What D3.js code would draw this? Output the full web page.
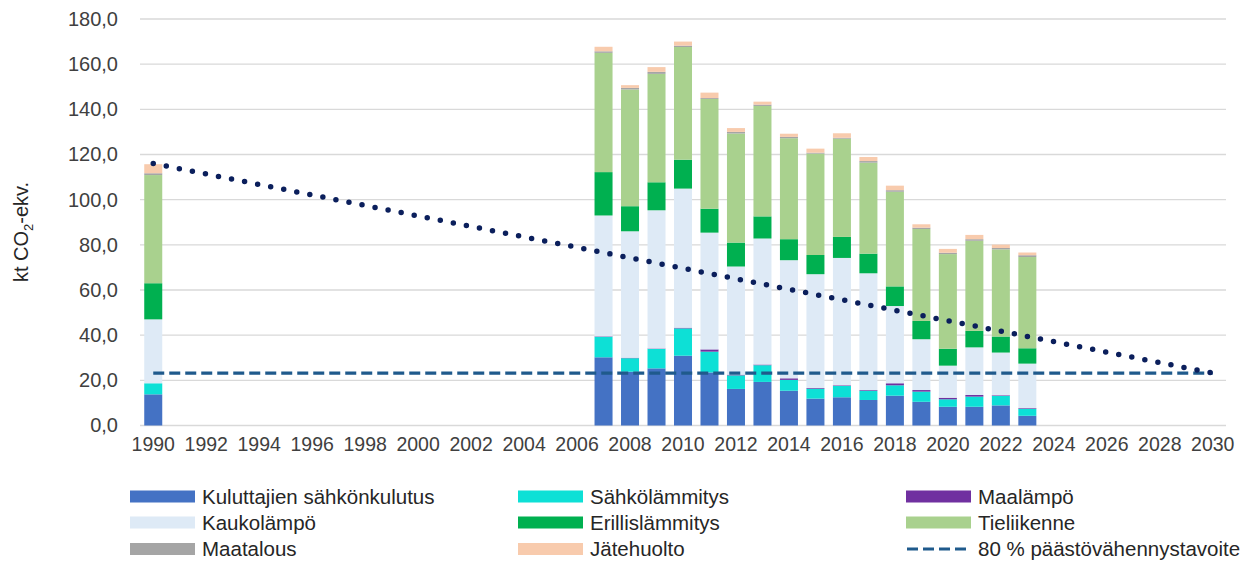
<!DOCTYPE html>
<html>
<head>
<meta charset="utf-8">
<script src="https://cdn.jsdelivr.net/npm/d3@7"></script>
<style>
  body { margin: 0; background: #fff; }
  svg { font-family: "Liberation Sans", Arial, sans-serif; }
  .tick text { fill: #404040; }
</style>
</head>
<body>
<div class="graph_container"></div>
<script>
// categories on the x axis (every year 1990..2030, labels every 2nd)
const allYears = d3.range(1990, 2031);
const dataYears = [1990, 2007, 2008, 2009, 2010, 2011, 2012, 2013, 2014, 2015, 2016, 2017, 2018, 2019, 2020, 2021, 2022, 2023];

// stacked series, kt CO2-ekv.
const kuluttajien = [13.8, 30.2, 23.8, 25.3, 30.9, 23.5, 16.2, 19.3, 15.4, 11.9, 12.5, 11.3, 13.2, 10.5, 8.3, 8.3, 8.9, 4.3];
const sahkolammitys = [4.9, 9.1, 6.0, 8.6, 12.1, 9.2, 6.0, 7.4, 4.8, 4.4, 5.0, 4.1, 4.6, 4.5, 3.3, 4.5, 4.2, 3.1];
const maalampo = [0.0, 0.2, 0.2, 0.2, 0.3, 1.0, 0.3, 0.3, 0.7, 0.3, 0.3, 0.3, 0.9, 0.7, 0.7, 0.7, 0.3, 0.3];
const kaukolampo = [28.3, 53.5, 56.0, 61.2, 61.6, 51.7, 47.9, 55.8, 52.3, 50.4, 56.4, 51.7, 34.2, 22.5, 14.2, 21.1, 18.9, 19.7];
const erillislammitys = [16.0, 19.2, 11.1, 12.4, 12.8, 10.6, 10.6, 9.8, 9.3, 8.5, 9.3, 8.7, 8.7, 8.1, 7.5, 7.3, 7.1, 6.8];
const tieliikenne = [47.9, 52.8, 51.7, 48.0, 49.9, 48.6, 48.3, 48.9, 44.7, 44.9, 43.5, 40.3, 41.9, 40.7, 41.9, 39.9, 38.6, 40.4];
const maatalous = [0.8, 0.7, 0.7, 0.9, 0.6, 0.4, 0.7, 0.6, 0.6, 0.4, 0.4, 0.7, 0.7, 0.6, 0.6, 0.7, 0.6, 0.8];
const jatehuolto = [4.0, 2.0, 1.2, 2.1, 1.8, 2.4, 1.7, 1.3, 1.4, 1.8, 2.0, 1.8, 2.0, 1.5, 1.7, 1.9, 1.5, 1.2];

// lines
const pathYears = [1990, 2030];
const pathValues = [116.0, 23.2];   // dotted reduction path
const goalValues = [23.2, 23.2];    // dashed 80 % goal

const yTicks = [0, 20, 40, 60, 80, 100, 120, 140, 160, 180];

const seriesNames = ["Kuluttajien sähkönkulutus", "Sähkölämmitys", "Maalämpö", "Kaukolämpö", "Erillislämmitys", "Tieliikenne", "Maatalous", "Jätehuolto"];
const seriesValues = [kuluttajien, sahkolammitys, maalampo, kaukolampo, erillislammitys, tieliikenne, maatalous, jatehuolto];
const seriesColors = ["#4472C4", "#0DE0D6", "#7030A0", "#DEEAF6", "#00B050", "#A9D18E", "#A5A5A5", "#F8CBAD"];

// legend order (3 columns, row by row)
const legendOrder = ["Kuluttajien sähkönkulutus", "Sähkölämmitys", "Maalämpö", "Kaukolämpö", "Erillislämmitys", "Tieliikenne", "Maatalous", "Jätehuolto", "80 % päästövähennystavoite"];

//^ DIMENSIONS //
const W = 1252, H = 564;
const plotLeft = 140, plotRight = 1226, plotTop = 19, plotBottom = 425.5;

const svg = d3.select(".graph_container").append("svg").attr("width", W).attr("height", H);

const x = d3.scaleBand().domain(allYears).range([plotLeft, plotRight]).paddingInner(0.32).paddingOuter(0.16);
const y = d3.scaleLinear().domain([0, 180]).range([plotBottom, plotTop]);
const cx = (yr) => x(yr) + x.bandwidth() / 2;

//^ GRIDLINES //
svg.append("g")
    .selectAll("line")
    .data(yTicks)
    .join("line")
    .attr("x1", plotLeft)
    .attr("x2", plotRight)
    .attr("y1", (d) => y(d))
    .attr("y2", (d) => y(d))
    .attr("stroke", "#d9d9d9")
    .attr("stroke-width", 1.3);

//^ Y AXIS //
const yAxis = svg.append("g")
    .attr("transform", "translate(" + plotLeft + ",0)")
    .call(d3.axisLeft(y).tickValues(yTicks).tickSize(0).tickPadding(22).tickFormat((d) => d3.format(".1f")(d).replace(".", ",")));
yAxis.select(".domain").remove();
yAxis.selectAll("text").attr("font-size", 20);

//^ X AXIS //
const xAxis = svg.append("g")
    .attr("transform", "translate(0," + plotBottom + ")")
    .call(d3.axisBottom(x).tickValues(allYears.filter((d) => (d - 1990) % 2 === 0)).tickSize(0).tickPadding(12));
xAxis.select(".domain").remove();
xAxis.selectAll("text").attr("font-size", 19.5);

//^ Y TITLE //
const yTitle = svg.append("text")
    .attr("transform", "translate(28,232) rotate(-90)")
    .attr("text-anchor", "middle")
    .attr("font-size", 20)
    .attr("fill", "#262626");
yTitle.append("tspan").text("kt CO");
yTitle.append("tspan").attr("font-size", 13).attr("dy", 5).text("2");
yTitle.append("tspan").attr("dy", -5).text("-ekv.");

//^ STACKED BARS //
const table = dataYears.map((yr, i) => {
    const row = { year: yr };
    seriesNames.forEach((n, k) => { row[n] = seriesValues[k][i]; });
    return row;
});
const stacked = d3.stack().keys(seriesNames)(table);

svg.append("g")
    .selectAll("g")
    .data(stacked)
    .join("g")
    .attr("fill", (d, i) => seriesColors[i])
    .selectAll("rect")
    .data((d) => d)
    .join("rect")
    .attr("x", (d) => x(d.data.year))
    .attr("width", x.bandwidth())
    .attr("y", (d) => y(d[1]))
    .attr("height", (d) => y(d[0]) - y(d[1]));

//^ LINES //
const line = d3.line().x((d) => cx(d[0])).y((d) => y(d[1]));

svg.append("path")
    .datum(pathYears.map((yr, i) => [yr, goalValues[i]]))
    .attr("d", line)
    .attr("fill", "none")
    .attr("stroke", "#1F5A8C")
    .attr("stroke-width", 3.2)
    .attr("stroke-dasharray", "11,5");

svg.append("path")
    .datum(pathYears.map((yr, i) => [yr, pathValues[i]]))
    .attr("d", line)
    .attr("fill", "none")
    .attr("stroke", "#0B1F5C")
    .attr("stroke-width", 5.5)
    .attr("stroke-linecap", "round")
    .attr("stroke-dasharray", "0,13.3");

//^ LEGEND //
const colX = [130, 518, 906];
const rowY = [496.5, 522.5, 549];
const legend = svg.append("g")
    .selectAll("g")
    .data(legendOrder)
    .join("g")
    .attr("transform", (d, i) => "translate(" + colX[i % 3] + "," + rowY[Math.floor(i / 3)] + ")");

legend.each(function (d) {
    const g = d3.select(this);
    const k = seriesNames.indexOf(d);
    if (k >= 0) {
        g.append("rect").attr("x", 0).attr("y", -6).attr("width", 65).attr("height", 12).attr("fill", seriesColors[k]);
    } else {
        g.append("line").attr("x1", 1).attr("x2", 65).attr("y1", 0).attr("y2", 0)
            .attr("stroke", "#1F5A8C").attr("stroke-width", 3.2).attr("stroke-dasharray", "11,5");
    }
    g.append("text").attr("x", 72).attr("y", 0).attr("dy", "0.35em").attr("font-size", 20.5).attr("fill", "#262626").text(d);
});
</script>
</body>
</html>
